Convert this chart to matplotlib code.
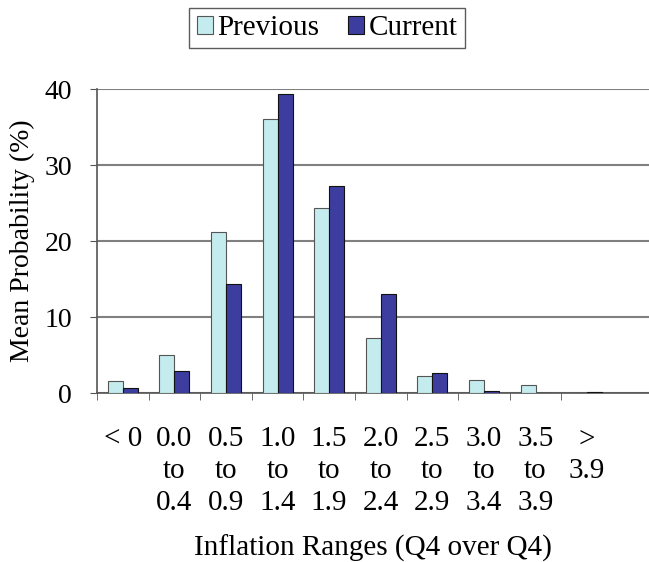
import numpy as np
import matplotlib
matplotlib.use('Agg')
import matplotlib.pyplot as plt

categories = ['< 0', '0.0\nto\n0.4', '0.5\nto\n0.9', '1.0\nto\n1.4', '1.5\nto\n1.9',
              '2.0\nto\n2.4', '2.5\nto\n2.9', '3.0\nto\n3.4', '3.5\nto\n3.9', '>\n3.9']
previous = [1.6, 5.0, 21.2, 36.0, 24.3, 7.2, 2.2, 1.7, 1.05, 0.05]
current = [0.65, 2.9, 14.3, 39.3, 27.3, 13.05, 2.6, 0.25, 0.05, 0.08]
yticks = [0, 10, 20, 30, 40]

def main():
    plt.rcParams['font.family'] = ['Liberation Serif', 'DejaVu Serif']
    fig = plt.figure(figsize=(6.49, 5.62), dpi=100)
    ax = fig.add_axes([0.1495, 0.3007, 0.8505, 0.5409])
    x = np.arange(len(categories))
    w = 0.29
    ax.bar(x - w/2, previous, w, color='#C4ECEE', edgecolor='#555555', linewidth=0.8,
           label='Previous', zorder=3)
    ax.bar(x + w/2, current, w, color='#3D3DA0', edgecolor='#111111', linewidth=0.8,
           label='Current', zorder=3)

    ax.set_xlim(-0.5, 10.2)
    ax.set_ylim(0, 40)
    ax.set_yticks(yticks)
    ax.yaxis.grid(True, color='#808080', linewidth=1.5)
    ax.set_axisbelow(True)
    for s in ['top', 'right']:
        ax.spines[s].set_visible(False)
    for s in ['left', 'bottom']:
        ax.spines[s].set_color('#555555')
        ax.spines[s].set_linewidth(1.2)

    ax.set_xticks(x)
    ax.set_xticklabels(categories, fontsize=21, linespacing=1.28, va='top')
    ax.set_xticks(np.arange(len(categories)) - 0.5, minor=True)
    ax.tick_params(axis='x', which='major', length=0, pad=24)
    ax.tick_params(axis='x', which='minor', length=5, direction='out', color='#555555')
    ax.tick_params(axis='y', labelsize=20, length=5, direction='out', color='#555555', pad=13)

    ax.set_xlabel('Inflation Ranges (Q4 over Q4)', fontsize=21, labelpad=14)
    ax.set_ylabel('Mean Probability (%)', fontsize=20, labelpad=7)

    leg = fig.legend(loc='upper center', bbox_to_anchor=(0.504, 0.986), ncol=2, fontsize=21,
                     frameon=True, fancybox=False, edgecolor='#333333', borderaxespad=0,
                     handlelength=0.55, handleheight=0.55, handletextpad=0.15,
                     columnspacing=1.0, borderpad=0.25)
    leg.get_frame().set_linewidth(1.0)

    plt.savefig('out.png', dpi=100)
    plt.close()

if __name__ == '__main__': main()
